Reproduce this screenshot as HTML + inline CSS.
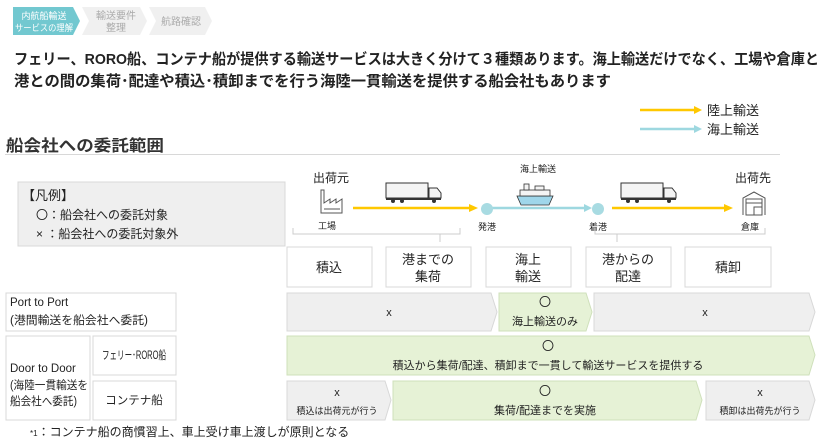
<!DOCTYPE html>
<html><head><meta charset="utf-8"><style>
html,body{margin:0;padding:0;background:#fff;}
svg{display:block;}
text{font-family:"Liberation Sans","Noto Sans CJK JP",sans-serif;fill:#222;}
</style></head><body>
<svg width="833" height="442" viewBox="0 0 833 442" xmlns="http://www.w3.org/2000/svg">
<polygon points="13,7 73,7 80,21 73,35 13,35" fill="#72c8d0"/>
<polygon points="82,7 140,7 147,21 140,35 82,35 89,21" fill="#f0f0f0"/>
<polygon points="149,7 205,7 212,21 205,35 149,35 156,21" fill="#f0f0f0"/>
<text x="44" y="19" font-size="9" text-anchor="middle" style="fill:#fff">内航船輸送</text>
<text x="44" y="31" font-size="9" text-anchor="middle" textLength="58" lengthAdjust="spacingAndGlyphs" style="fill:#fff">サービスの理解</text>
<text x="116" y="19" font-size="10" text-anchor="middle" style="fill:#aaa">輸送要件</text>
<text x="116" y="31" font-size="10" text-anchor="middle" style="fill:#aaa">整理</text>
<text x="181" y="25" font-size="10" text-anchor="middle" style="fill:#aaa">航路確認</text>
<text x="14" y="64" font-size="15" font-weight="bold" textLength="805" lengthAdjust="spacingAndGlyphs">フェリー、RORO船、コンテナ船が提供する輸送サービスは大きく分けて３種類あります。海上輸送だけでなく、工場や倉庫と</text>
<text x="14" y="86" font-size="15" font-weight="bold" textLength="597" lengthAdjust="spacingAndGlyphs">港との間の集荷･配達や積込･積卸までを行う海陸一貫輸送を提供する船会社もあります</text>
<line x1="640" y1="110" x2="695" y2="110" stroke="#ffc800" stroke-width="2.5"/>
<polygon points="694,106 702,110 694,114" fill="#ffc800"/>
<text x="707" y="115" font-size="13">陸上輸送</text>
<line x1="640" y1="129" x2="695" y2="129" stroke="#9ed8e0" stroke-width="2.5"/>
<polygon points="694,125 702,129 694,133" fill="#9ed8e0"/>
<text x="707" y="134" font-size="13">海上輸送</text>
<text x="6" y="151" font-size="16" font-weight="bold" style="fill:#333" textLength="158" lengthAdjust="spacingAndGlyphs">船会社への委託範囲</text>
<line x1="5" y1="154.5" x2="780" y2="154.5" stroke="#d8d8d8" stroke-width="1"/>
<rect x="18" y="182" width="267" height="64" fill="#efefef" stroke="#d8d8d8"/>
<text x="22" y="200" font-size="13">【凡例】</text>
<text x="36" y="219" font-size="12">〇：船会社への委託対象</text>
<text x="36" y="238" font-size="12">× ：船会社への委託対象外</text>
<text x="313" y="182" font-size="12">出荷元</text>
<g stroke="#555" fill="none" stroke-width="1">
<path d="M321,213 V190 h3 V203 l6,-4 v4 l6,-4 v4 l6,-4 V213 Z"/>
<line x1="324" y1="209" x2="340" y2="209"/>
<path d="M743,215 V198 l11,-6 l11,6 V215"/>
<rect x="746" y="199" width="16" height="16"/>
<line x1="746" y1="203" x2="762" y2="203"/>
<rect x="754" y="207" width="8" height="8"/>
</g>
<text x="735" y="182" font-size="12">出荷先</text>
<text x="520" y="172" font-size="9">海上輸送</text>
<line x1="353" y1="208" x2="470" y2="208" stroke="#ffc800" stroke-width="2.5"/>
<polygon points="469,204 478,208 469,212" fill="#ffc800"/>
<line x1="492" y1="208" x2="585" y2="208" stroke="#9ed8e0" stroke-width="2.5"/>
<polygon points="584,204 592,208 584,212" fill="#9ed8e0"/>
<line x1="612" y1="208" x2="725" y2="208" stroke="#ffc800" stroke-width="2.5"/>
<polygon points="724,204 733,208 724,212" fill="#ffc800"/>
<circle cx="487" cy="209" r="6" fill="#a8dbe2"/>
<circle cx="598" cy="209" r="6" fill="#a8dbe2"/>
<g>
<rect x="386" y="183" width="42" height="15" fill="#f4f4f4" stroke="#333"/>
<path d="M429,188 h8 l4,5 v5 h-12 Z" fill="#f4f4f4" stroke="#333"/>
<rect x="386" y="198" width="55" height="2" fill="#333"/>
<circle cx="393" cy="201" r="2" fill="#333"/><circle cx="402" cy="201" r="2" fill="#333"/><circle cx="434" cy="201" r="2" fill="#333"/>
<rect x="621" y="183" width="42" height="15" fill="#f4f4f4" stroke="#333"/>
<path d="M664,188 h8 l4,5 v5 h-12 Z" fill="#f4f4f4" stroke="#333"/>
<rect x="621" y="198" width="55" height="2" fill="#333"/>
<circle cx="628" cy="201" r="2" fill="#333"/><circle cx="637" cy="201" r="2" fill="#333"/><circle cx="669" cy="201" r="2" fill="#333"/>
</g>
<path d="M517,196 h36 l-4,9 h-28 Z" fill="#9fd6ea" stroke="#333" stroke-width="0.8"/>
<rect x="520" y="190" width="30" height="6" fill="#f4f4f4" stroke="#333" stroke-width="0.8"/>
<rect x="524" y="184" width="5" height="6" fill="#f4f4f4" stroke="#333" stroke-width="0.8"/>
<rect x="535" y="186" width="9" height="4" fill="#f4f4f4" stroke="#333" stroke-width="0.8"/>
<text x="318" y="229" font-size="9">工場</text>
<text x="478" y="230" font-size="9">発港</text>
<text x="589" y="230" font-size="9">着港</text>
<text x="741" y="230" font-size="9">倉庫</text>
<path d="M293,228 v6 h167 v-6 M440,234 v8" stroke="#ccc" fill="none"/>
<path d="M595,228 v6 h170 v-6 M617,234 v8" stroke="#ccc" fill="none"/>
<g fill="#fff" stroke="#d8d8d8">
<rect x="287" y="247" width="85" height="40"/>
<rect x="386" y="247" width="85" height="40"/>
<rect x="486" y="247" width="85" height="40"/>
<rect x="586" y="247" width="85" height="40"/>
<rect x="685" y="247" width="86" height="40"/>
</g>
<g font-size="13" text-anchor="middle">
<text x="329" y="272">積込</text>
<text x="428" y="264">港までの</text><text x="428" y="281">集荷</text>
<text x="528" y="264">海上</text><text x="528" y="281">輸送</text>
<text x="628" y="264">港からの</text><text x="628" y="281">配達</text>
<text x="728" y="272">積卸</text>
</g>
<g fill="#fff" stroke="#d8d8d8">
<rect x="6" y="293" width="170" height="38"/>
<rect x="6" y="336" width="84" height="84"/>
<rect x="93" y="336" width="83" height="39"/>
<rect x="93" y="381" width="83" height="39"/>
</g>
<text x="10" y="306" font-size="11.5">Port to Port</text>
<text x="10" y="324" font-size="11.5" textLength="138" lengthAdjust="spacingAndGlyphs">(港間輸送を船会社へ委託)</text>
<text x="10" y="372" font-size="11.5">Door to Door</text>
<text x="10" y="389" font-size="11.5" textLength="78" lengthAdjust="spacingAndGlyphs">(海陸一貫輸送を</text>
<text x="10" y="405" font-size="11.5" textLength="67" lengthAdjust="spacingAndGlyphs">船会社へ委託)</text>
<text x="134" y="359" font-size="11.5" text-anchor="middle" textLength="64" lengthAdjust="spacingAndGlyphs">フェリー･RORO船</text>
<text x="134" y="404" font-size="11.5" text-anchor="middle">コンテナ船</text>
<g stroke-width="1">
<polygon points="287,293 491,293 497,312 491,331 287,331" fill="#efefef" stroke="#d8d8d8"/>
<polygon points="499,293 586,293 592,312 586,331 499,331" fill="#e6f2d6" stroke="#cfe0bb"/>
<polygon points="594,293 809,293 815,312 809,331 594,331" fill="#efefef" stroke="#d8d8d8"/>
<polygon points="287,336 809,336 815,355 809,375 287,375" fill="#e6f2d6" stroke="#cfe0bb"/>
<polygon points="287,381 385,381 391,400 385,420 287,420" fill="#efefef" stroke="#d8d8d8"/>
<polygon points="393,381 696,381 702,400 696,420 393,420" fill="#e6f2d6" stroke="#cfe0bb"/>
<polygon points="706,381 809,381 815,400 809,420 706,420" fill="#efefef" stroke="#d8d8d8"/>
</g>
<g text-anchor="middle">
<text x="389" y="316" font-size="11">x</text>
<text x="545" y="306" font-size="12">〇</text>
<text x="545" y="325" font-size="11">海上輸送のみ</text>
<text x="705" y="316" font-size="11">x</text>
<text x="548" y="350" font-size="12">〇</text>
<text x="548" y="369" font-size="11">積込から集荷/配達、積卸まで一貫して輸送サービスを提供する</text>
<text x="337" y="396" font-size="11">x</text>
<text x="337" y="414" font-size="9">積込は出荷元が行う</text>
<text x="545" y="395" font-size="12">〇</text>
<text x="545" y="414" font-size="11">集荷/配達までを実施</text>
<text x="760" y="396" font-size="11">x</text>
<text x="760" y="414" font-size="9">積卸は出荷先が行う</text>
</g>
<text x="30" y="436" font-size="12"><tspan font-size="8">*1</tspan>：コンテナ船の商慣習上、車上受け車上渡しが原則となる</text>
</svg>
</body></html>
